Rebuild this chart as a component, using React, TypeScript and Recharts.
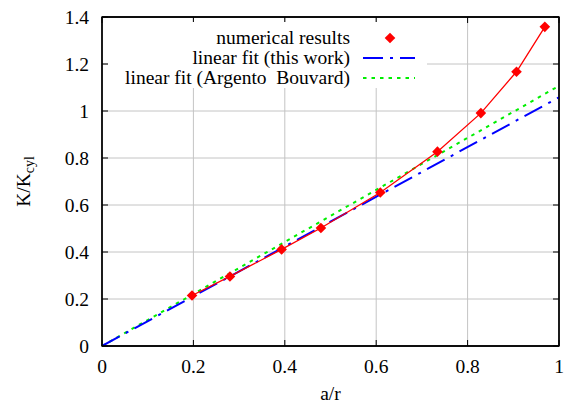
import React from 'react';
import { ComposedChart, Line, XAxis, YAxis, CartesianGrid, ReferenceArea } from 'recharts';

// numerical results
const numX = [0.197, 0.28, 0.393, 0.479, 0.609, 0.734, 0.829, 0.907, 0.969];
const numY = [0.215, 0.296, 0.411, 0.502, 0.653, 0.827, 0.991, 1.167, 1.358];
// linear fits
const fitX = [0, 1];
const fitThisWork = [0, 1.058];
const fitArgento = [0, 1.107];
// ticks
const xTicks = [0, 0.2, 0.4, 0.6, 0.8, 1];
const yTicks = [0, 0.2, 0.4, 0.6, 0.8, 1, 1.2, 1.4];
const legendLabels = ['numerical results', 'linear fit (this work)', 'linear fit (Argento  Bouvard)'];

const numData = numX.map((x, i) => ({ x, y: numY[i] }));
const thisData = fitX.map((x, i) => ({ x, y: fitThisWork[i] }));
const abData = fitX.map((x, i) => ({ x, y: fitArgento[i] }));

const FONT = '"Liberation Serif", "Times New Roman", serif';
const FS = 19.5;
const RED = '#ff0000';
const BLUE = '#0000ff';
const GREEN = '#00ee00';
const BLUE_DASH = '20 7 3 7';
const GREEN_DASH = '3.5 5';
const TICK = 6;

const Diamond = (props: any) => {
  const { cx, cy } = props;
  if (cx == null || cy == null) return null;
  const r = 5.3;
  return <polygon points={`${cx},${cy - r} ${cx + r},${cy} ${cx},${cy + r} ${cx - r},${cy}`} fill={RED} />;
};

const BottomTick = (props: any) => {
  const { x, y, payload } = props;
  return (
    <g>
      <line x1={x} y1={y} x2={x} y2={y - TICK} stroke="#000" strokeWidth={1} />
      <text x={x} y={y + 27} textAnchor="middle" fontFamily={FONT} fontSize={FS} fill="#000">
        {String(payload.value)}
      </text>
    </g>
  );
};

const TopTick = (props: any) => {
  const { x, y } = props;
  return <line x1={x} y1={y} x2={x} y2={y + TICK} stroke="#000" strokeWidth={1} />;
};

const LeftTick = (props: any) => {
  const { x, y, payload } = props;
  return (
    <g>
      <line x1={x} y1={y} x2={x + TICK} y2={y} stroke="#000" strokeWidth={1} />
      <text x={x - 13} y={y + 6.5} textAnchor="end" fontFamily={FONT} fontSize={FS} fill="#000">
        {String(payload.value)}
      </text>
    </g>
  );
};

const RightTick = (props: any) => {
  const { x, y } = props;
  return <line x1={x} y1={y} x2={x - TICK} y2={y} stroke="#000" strokeWidth={1} />;
};

const YLabel = (props: any) => {
  const vb = props.viewBox || { x: 42, y: 16, width: 60, height: 330 };
  const cx = 30;
  const cy = vb.y + vb.height / 2;
  return (
    <text
      x={cx}
      y={cy}
      transform={`rotate(-90, ${cx}, ${cy})`}
      textAnchor="middle"
      fontFamily={FONT}
      fontSize={FS}
      fill="#000"
    >
      <tspan>K/K</tspan>
      <tspan dy={4} fontSize={14}>cyl</tspan>
    </text>
  );
};

const XLabel = (props: any) => {
  const vb = props.viewBox || { x: 102, y: 346, width: 458, height: 30 };
  const cx = vb.x + vb.width / 2;
  return (
    <text x={cx} y={400} textAnchor="middle" fontFamily={FONT} fontSize={FS} fill="#000">
      a/r
    </text>
  );
};

const LegendBox = () => {
  const rowH = 20;
  const rows = [0, 1, 2];
  return (
    <div
      style={{
        position: 'absolute',
        left: 108,
        top: 22,
        width: 319,
        height: 66,
        background: '#fff',
        fontFamily: FONT,
        fontSize: FS,
        color: '#000',
      }}
    >
      {rows.map((i) => (
        <div
          key={i}
          style={{
            position: 'absolute',
            left: 0,
            top: 16 + i * rowH - rowH / 2,
            width: 319,
            height: rowH,
            lineHeight: `${rowH}px`,
          }}
        >
          <span
            style={{
              position: 'absolute',
              right: 319 - 242,
              top: 0,
              whiteSpace: 'pre',
              fontFamily: FONT,
            }}
          >
            {legendLabels[i]}
          </span>
          <svg style={{ position: 'absolute', left: 255, top: 0 }} width={54} height={rowH}>
            {i === 0 && <polygon points="27,4.7 32.3,10 27,15.3 21.7,10" fill={RED} />}
            {i === 1 && (
              <line x1={0} y1={10} x2={52} y2={10} stroke={BLUE} strokeWidth={2} strokeDasharray={BLUE_DASH} />
            )}
            {i === 2 && (
              <line x1={0} y1={10} x2={52} y2={10} stroke={GREEN} strokeWidth={2} strokeDasharray={GREEN_DASH} />
            )}
          </svg>
        </div>
      ))}
    </div>
  );
};

export default function App() {
  return (
    <div style={{ position: 'absolute', left: 0, top: 0, width: 573, height: 405, background: '#fff' }}>
      <ComposedChart
        width={573}
        height={405}
        margin={{ top: 16, right: 13, bottom: 29, left: 42 }}
        style={{ fontFamily: FONT }}
      >
        <CartesianGrid stroke="#c4c4c4" strokeWidth={1} horizontalValues={yTicks} verticalValues={xTicks} />
        <XAxis
          xAxisId={0}
          type="number"
          dataKey="x"
          domain={[0, 1]}
          ticks={xTicks}
          allowDataOverflow
          height={30}
          tickLine={false}
          tickSize={0}
          tickMargin={0}
          axisLine={{ stroke: '#000', strokeWidth: 1.3 }}
          tick={<BottomTick />}
          interval={0}
          label={<XLabel />}
        />
        <XAxis
          xAxisId="top"
          orientation="top"
          type="number"
          dataKey="x"
          domain={[0, 1]}
          ticks={xTicks}
          allowDataOverflow
          height={1}
          tickLine={false}
          tickSize={0}
          tickMargin={0}
          axisLine={{ stroke: '#000', strokeWidth: 1.3 }}
          tick={<TopTick />}
          interval={0}
        />
        <YAxis
          yAxisId={0}
          type="number"
          domain={[0, 1.4]}
          ticks={yTicks}
          allowDataOverflow
          width={60}
          tickLine={false}
          tickSize={0}
          tickMargin={0}
          axisLine={{ stroke: '#000', strokeWidth: 1.3 }}
          tick={<LeftTick />}
          interval={0}
          label={<YLabel />}
        />
        <YAxis
          yAxisId="right"
          orientation="right"
          type="number"
          domain={[0, 1.4]}
          ticks={yTicks}
          allowDataOverflow
          width={1}
          tickLine={false}
          tickSize={0}
          tickMargin={0}
          axisLine={{ stroke: '#000', strokeWidth: 1.3 }}
          tick={<RightTick />}
          interval={0}
        />
        <ReferenceArea
          x1={0}
          x2={1}
          y1={0}
          y2={1.4}
          fill="none"
          fillOpacity={0}
          stroke="#000"
          strokeWidth={1.3}
          ifOverflow="visible"
        />
        <Line
          xAxisId="top"
          yAxisId="right"
          data={numData}
          dataKey="y"
          stroke="none"
          dot={false}
          activeDot={false}
          isAnimationActive={false}
          legendType="none"
        />
        <Line
          data={abData}
          dataKey="y"
          type="linear"
          stroke={GREEN}
          strokeWidth={2}
          strokeDasharray={GREEN_DASH}
          dot={false}
          activeDot={false}
          isAnimationActive={false}
          legendType="none"
        />
        <Line
          data={thisData}
          dataKey="y"
          type="linear"
          stroke={BLUE}
          strokeWidth={2}
          strokeDasharray={BLUE_DASH}
          dot={false}
          activeDot={false}
          isAnimationActive={false}
          legendType="none"
        />
        <Line
          data={numData}
          dataKey="y"
          type="linear"
          stroke={RED}
          strokeWidth={1.3}
          dot={<Diamond />}
          activeDot={false}
          isAnimationActive={false}
          legendType="none"
        />
      </ComposedChart>
      <LegendBox />
    </div>
  );
}
